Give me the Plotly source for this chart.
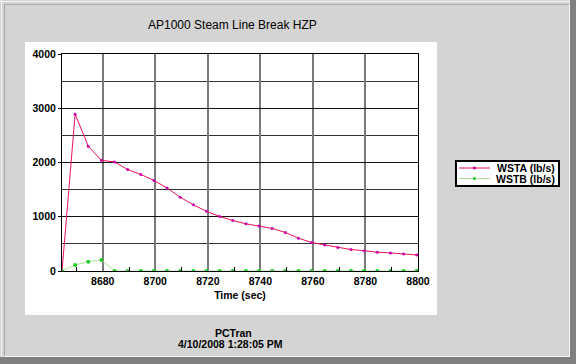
import plotly.graph_objects as go

# ---- data ----
time_s = [8664.5 + 5 * k for k in range(28)]
wsta = [0, 2890, 2300, 2040, 2010, 1870, 1780, 1670, 1530, 1360, 1220, 1100, 1005, 930,
        870, 830, 785, 710, 605, 525, 480, 432, 395, 375, 346, 333, 315, 296]
wstb = [0, 111, 172, 204, 0, 0, 0, 0, 0, 0, 0, 0, 0, 0,
        0, 0, 0, 0, 0, 0, 0, 0, 0, 0, 0, 0, 0, 0]
series_names = ["WSTA (lb/s)", "WSTB (lb/s)"]
line_colors = ["#ee1155", "#a8e098"]
marker_colors = ["#cc00aa", "#22cc22"]
title_text = "AP1000 Steam Line Break HZP"
footer_1 = "PCTran"
footer_2 = "4/10/2008 1:28:05 PM"

W, H = 576, 364
PL, PR, PT, PB = 62, 418, 54, 271  # plot area in pixels


def px(x):
    return (x - PL) / (PR - PL)


def py(y):
    return (PB - y) / (PB - PT)


FONT = "Liberation Sans, Arial, sans-serif"
BG = "#d4d4d4"

fig = go.Figure()
fig.add_trace(go.Scatter(x=time_s, y=wsta, mode="lines+markers", name=series_names[0],
                         line=dict(color=line_colors[0], width=1),
                         marker=dict(color=marker_colors[0], size=3)))
fig.add_trace(go.Scatter(x=time_s, y=wstb, mode="lines+markers", name=series_names[1],
                         line=dict(color=line_colors[1], width=1),
                         marker=dict(color=marker_colors[1], size=4)))

shapes = []
# white panel behind plot
shapes.append(dict(type="rect", xref="paper", yref="paper", layer="below",
                   x0=px(25), x1=px(437), y0=py(315), y1=py(42),
                   fillcolor="white", line=dict(width=0)))


def hline(y, x0, x1, color, w=1, layer="below"):
    return dict(type="line", xref="paper", yref="paper", layer=layer,
                x0=px(x0), x1=px(x1), y0=py(y), y1=py(y), line=dict(color=color, width=w))


def vline(x, y0, y1, color, w=1):
    return dict(type="line", xref="paper", yref="paper", layer="below",
                x0=px(x), x1=px(x), y0=py(y0), y1=py(y1), line=dict(color=color, width=w))


# bevel borders
shapes += [
    hline(1.5, 0, 570, "#f4f4f4"), vline(1.5, 0, 357, "#f4f4f4"),
    hline(4.5, 4, 569, "#a8a8a8"), vline(4.5, 4, 356, "#a8a8a8"),
    vline(569.5, 4, 357, "#f8f8f8"), hline(356.5, 4, 570, "#f8f8f8"),
    vline(573, 0, 364, "#808080", 6), hline(360.5, 0, 576, "#808080", 7),
]

annotations = [
    dict(text=title_text, xref="paper", yref="paper", x=px(232), y=py(25),
         showarrow=False, font=dict(family=FONT, size=12, color="black"),
         xanchor="center", yanchor="middle"),
    dict(text="<b>" + footer_1 + "</b>", xref="paper", yref="paper", x=px(233), y=py(333),
         showarrow=False, font=dict(family=FONT, size=10.5, color="black"),
         xanchor="center", yanchor="middle"),
    dict(text="<b>" + footer_2 + "</b>", xref="paper", yref="paper", x=px(230), y=py(343.5),
         showarrow=False, font=dict(family=FONT, size=10.5, color="black"),
         xanchor="center", yanchor="middle"),
]

# compact legend box (drawn to match the original's tight layout)
LX0, LX1, LY0, LY1 = 456, 559, 161, 186
shapes.append(dict(type="rect", xref="paper", yref="paper", layer="above",
                   x0=px(LX0), x1=px(LX1), y0=py(LY1), y1=py(LY0),
                   fillcolor="white", line=dict(color="black", width=2)))
for i, (nm, lc, mc) in enumerate(zip(series_names, line_colors, marker_colors)):
    yy = 168 + i * 10.5
    shapes.append(hline(yy, 459, 490, lc, 1, layer="above"))
    shapes.append(dict(type="circle", xref="paper", yref="paper", layer="above",
                       x0=px(473), x1=px(476), y0=py(yy + 1.5), y1=py(yy - 1.5),
                       fillcolor=mc, line=dict(width=0)))
    annotations.append(dict(text="<b>" + nm + "</b>", xref="paper", yref="paper",
                            x=px(557), y=py(yy), showarrow=False,
                            xanchor="right", yanchor="middle",
                            font=dict(family=FONT, size=10.5, color="black")))

fig.update_layout(
    width=W, height=H,
    margin=dict(l=PL, r=W - PR, t=PT, b=H - PB, pad=0),
    paper_bgcolor=BG, plot_bgcolor="white",
    shapes=shapes, annotations=annotations,
    font=dict(family=FONT, size=10.5, color="black"),
    showlegend=False,
    xaxis=dict(range=[8664.5, 8800], tick0=8680, dtick=20,
               showgrid=True, gridcolor="#7a7a7a", gridwidth=2,
               showline=True, linecolor="black", linewidth=1, mirror=True,
               ticks="", tickfont=dict(family=FONT, size=10.5, weight="bold"),
               zeroline=False,
               minor=dict(tick0=8670, dtick=20, ticks="inside", ticklen=4, tickcolor="black",
                          showgrid=False),
               title=dict(text="<b>Time (sec)</b>", font=dict(family=FONT, size=10.5), standoff=6)),
    yaxis=dict(range=[0, 4000], tick0=0, dtick=1000,
               showgrid=True, gridcolor="#111111", gridwidth=1,
               showline=True, linecolor="black", linewidth=1, mirror=True,
               ticks="outside", ticklen=3, tickcolor="black",
               tickfont=dict(family=FONT, size=10.5, weight="bold"),
               zeroline=False,
               minor=dict(dtick=500, showgrid=True, gridcolor="#333333", gridwidth=1)),
)

fig.write_html("out.html")
